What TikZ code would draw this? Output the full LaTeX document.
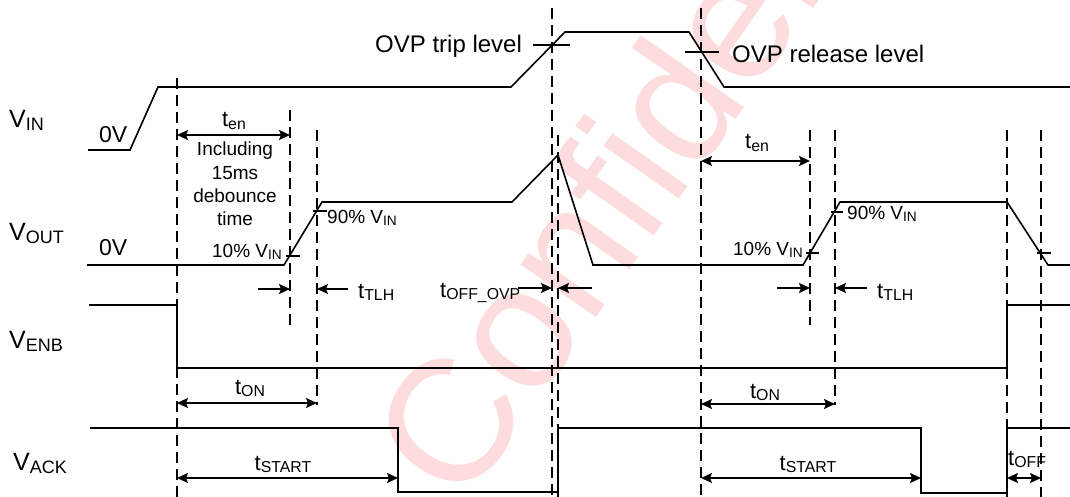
\documentclass[tikz,border=0pt]{standalone}
\usepackage{fontspec}
\setmainfont{Liberation Sans}
\usetikzlibrary{arrows.meta}
\newcommand\lo[1]{\raisebox{-0.12em}{\scalebox{0.72}{#1}}}
\definecolor{wmcol}{RGB}{252,220,220}
\tikzset{
  trace/.style={line width=1.6pt, line join=miter},
  guide/.style={line width=1.5pt, dash pattern=on 11pt off 6pt},
  tick/.style={line width=1.4pt},
  dima/.style={line width=1.5pt, -{Stealth[length=11pt,width=10pt,inset=2pt]}},
  dimb/.style={line width=1.5pt, {Stealth[length=11pt,width=10pt,inset=2pt]}-{Stealth[length=11pt,width=10pt,inset=2pt]}},
  lbl/.style={inner sep=0pt, font=\fontsize{25}{30}\selectfont},
  zv/.style={inner sep=0pt, font=\fontsize{23}{28}\selectfont},
  ovp/.style={inner sep=0pt, font=\fontsize{24}{28}\selectfont},
  tm/.style={inner sep=0pt, font=\fontsize{22}{26}\selectfont},
  pct/.style={inner sep=0pt, font=\fontsize{19}{23}\selectfont},
  wm/.style={inner sep=0pt, text=wmcol, font=\fontsize{174}{174}\selectfont}
}
\begin{document}
\begin{tikzpicture}[x=1pt,y=-1pt]
\useasboundingbox (0,0) rectangle (1070,497);
% watermark
\node[wm, rotate=55, anchor=base west] (wmk) at (462,510) {Confidential};

% signal names
\node[lbl, anchor=base west] (nin)  at (9,128) {V\lo{IN}};
\node[lbl, anchor=base west] (nout) at (9,240) {V\lo{OUT}};
\node[lbl, anchor=base west] (nenb) at (9,348) {V\lo{ENB}};
\node[lbl, anchor=base west] (nack) at (13,470) {V\lo{ACK}};
\node[zv, anchor=base west] (z1) at (99,143) {0V};
\node[zv, anchor=base west] (z2) at (99,255) {0V};

% dashed guides
\draw[guide] (177,78) -- (177,497);
\draw[guide] (290,110) -- (290,325);
\draw[guide] (317,130) -- (317,405);
\draw[guide] (552,8) -- (552,497);
\draw[guide] (558,135) -- (558,497);
\draw[guide] (701,8) -- (701,497);
\draw[guide] (810,130) -- (810,325);
\draw[guide] (835,130) -- (835,405);
\draw[guide] (1007,130) -- (1007,497);
\draw[guide] (1041,130) -- (1041,497);

% traces
\draw[trace] (88,150) -- (130,150) -- (158,87) -- (511,87) -- (565,32) -- (689,32) -- (724,87) -- (1070,87);
\draw[trace] (87,265) -- (284,265) -- (322,202) -- (512,202) -- (558,155) -- (593,265) -- (803,265) -- (840,202) -- (1007,202) -- (1048,265) -- (1070,265);
\draw[trace] (89,305) -- (177,305) -- (177,368) -- (1007,368) -- (1007,305) -- (1070,305);
\draw[trace] (90,428) -- (398,428) -- (398,492) -- (558,492) -- (558,428) -- (921,428) -- (921,493) -- (1007,493) -- (1007,428) -- (1070,428);

% level ticks
\draw[tick] (533,45) -- (570,45);
\draw[tick] (685,52) -- (719,52);
\draw[tick] (286,256) -- (300,256);
\draw[tick] (313,211) -- (327,211);
\draw[tick] (806,253) -- (819,253);
\draw[tick] (831,212) -- (843,212);
\draw[tick] (1037,253) -- (1051,253);

% level labels
\node[ovp, anchor=base west] (trip) at (375,53) {OVP trip level};
\node[ovp, anchor=base west] (rel) at (732,63) {OVP release level};
\node[pct, anchor=base east] (p10a) at (282,257) {10\% V\lo{IN}};
\node[pct, anchor=base west] (p90a) at (327,223) {90\% V\lo{IN}};
\node[pct, anchor=base east] (p10b) at (803,255) {10\% V\lo{IN}};
\node[pct, anchor=base west] (p90b) at (847,219) {90\% V\lo{IN}};

% debounce text
\node[pct, anchor=base] (inc1) at (235,156) {Including};
\node[pct, anchor=base] (inc2) at (235,179) {15ms};
\node[pct, anchor=base] (inc3) at (235,202) {debounce};
\node[pct, anchor=base] (inc4) at (235,225) {time};

% arrow end points
\coordinate (enA) at (177,135); \coordinate (enB) at (290,135);
\coordinate (enC) at (701,161); \coordinate (enD) at (810,161);
\coordinate (tl1) at (258,289); \coordinate (tl2) at (290,289);
\coordinate (tl3) at (348,289); \coordinate (tl4) at (317,289);
\coordinate (tr1) at (777,288); \coordinate (tr2) at (810,288);
\coordinate (tr3) at (867,288); \coordinate (tr4) at (835,288);
\coordinate (ov1) at (518,288); \coordinate (ov2) at (552,288);
\coordinate (ov3) at (592,288); \coordinate (ov4) at (558,288);
\coordinate (onA) at (177,403); \coordinate (onB) at (317,403);
\coordinate (onC) at (701,404); \coordinate (onD) at (835,404);
\coordinate (stA) at (177,478); \coordinate (stB) at (398,478);
\coordinate (stC) at (701,478); \coordinate (stD) at (921,478);
\coordinate (ofA) at (1007,478); \coordinate (ofB) at (1041,478);

\draw[dimb] (enA) -- (enB);
\draw[dimb] (enC) -- (enD);
\draw[dima] (tl1) -- (tl2);
\draw[dima] (tl3) -- (tl4);
\draw[dima] (tr1) -- (tr2);
\draw[dima] (tr3) -- (tr4);
\draw[dima] (ov1) -- (ov2);
\draw[dima] (ov3) -- (ov4);
\draw[dimb] (onA) -- (onB);
\draw[dimb] (onC) -- (onD);
\draw[dimb] (stA) -- (stB);
\draw[dimb] (stC) -- (stD);
\draw[dimb] (ofA) -- (ofB);

% timing labels
\node[tm, anchor=base] (ten1) at (234,127) {t\lo{en}};
\node[tm, anchor=base] (ten2) at (757,149) {t\lo{en}};
\node[tm, anchor=base west] (ttlh1) at (358,298) {t\lo{TLH}};
\node[tm, anchor=base west] (ttlh2) at (877,298) {t\lo{TLH}};
\node[tm, anchor=base west] (toffovp) at (440,297) {t\lo{OFF\_OVP}};
\node[tm, anchor=base] (ton1) at (250,394) {t\lo{ON}};
\node[tm, anchor=base] (ton2) at (765,398) {t\lo{ON}};
\node[tm, anchor=base] (tst1) at (283,470) {t\lo{START}};
\node[tm, anchor=base] (tst2) at (808,470) {t\lo{START}};
\node[tm, anchor=base west] (toff) at (1008,465) {t\lo{OFF}};
\end{tikzpicture}
\end{document}
